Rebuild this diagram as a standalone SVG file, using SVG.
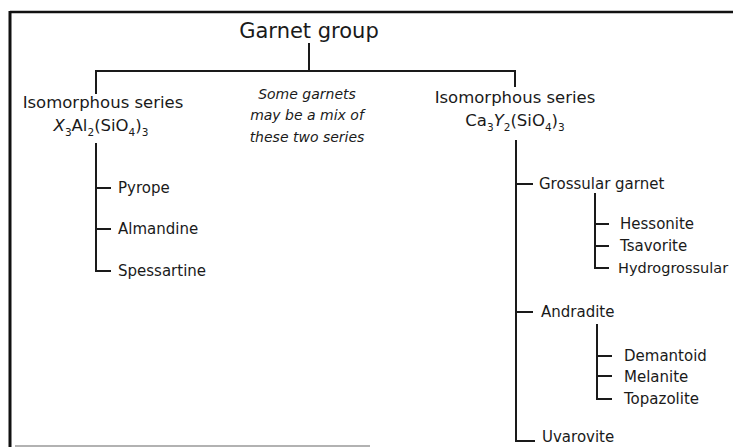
<svg xmlns="http://www.w3.org/2000/svg" width="733" height="447" viewBox="0 0 733 447">
<style>
text{font-family:"DejaVu Sans","Liberation Sans",sans-serif;fill:#1a1a1a}
.title{font-size:21px}
.series{font-size:16.5px}
.item{font-size:15px}
.note{font-size:14px;font-style:italic}
.sub{font-size:10.5px}
.ln{stroke:#1a1a1a;stroke-width:2;fill:none}
</style>
<rect x="0" y="0" width="733" height="447" fill="#fff"/>
<g id="frame">
<line x1="10" y1="12" x2="733" y2="12" stroke="#111" stroke-width="2.5"/>
<line x1="10" y1="11" x2="10" y2="447" stroke="#111" stroke-width="3"/>
<line x1="15" y1="446" x2="370" y2="446" stroke="#999" stroke-width="1.5"/>
</g>
<g id="connectors" class="ln">
<path d="M309 43V71M96 94V71H515V87"/>
<path d="M96 143V271H111M96 188H111M96 229H111"/>
<path d="M516 140V441H535M516 184H533M516 312H533"/>
<path d="M595 193V268H609M595 224H609M595 246H609"/>
<path d="M597 324V399H612M597 356H612M597 376H612"/>
</g>
<g id="garnet-group"><text class="title" x="309" y="38" text-anchor="middle">Garnet group</text></g>
<g id="series-x">
<text class="series" x="103" y="108" text-anchor="middle">Isomorphous series</text>
<text class="series" x="101" y="131" text-anchor="middle"><tspan font-style="italic">X</tspan><tspan class="sub" dy="5">3</tspan><tspan dy="-5">Al</tspan><tspan class="sub" dy="5">2</tspan><tspan dy="-5">(SiO</tspan><tspan class="sub" dy="5">4</tspan><tspan dy="-5">)</tspan><tspan class="sub" dy="5">3</tspan></text>
</g>
<g id="note">
<text class="note" x="307" y="99" text-anchor="middle">Some garnets</text>
<text class="note" x="307" y="120" text-anchor="middle">may be a mix of</text>
<text class="note" x="307" y="142" text-anchor="middle">these two series</text>
</g>
<g id="series-ca">
<text class="series" x="515" y="103" text-anchor="middle">Isomorphous series</text>
<text class="series" x="515" y="126" text-anchor="middle"><tspan>Ca</tspan><tspan class="sub" dy="5">3</tspan><tspan dy="-5" font-style="italic">Y</tspan><tspan class="sub" dy="5">2</tspan><tspan dy="-5">(SiO</tspan><tspan class="sub" dy="5">4</tspan><tspan dy="-5">)</tspan><tspan class="sub" dy="5">3</tspan></text>
</g>
<g id="pyrope"><text class="item" x="118" y="193">Pyrope</text></g>
<g id="almandine"><text class="item" x="118" y="234">Almandine</text></g>
<g id="spessartine"><text class="item" x="118" y="276">Spessartine</text></g>
<g id="grossular"><text class="item" x="539" y="189">Grossular garnet</text></g>
<g id="hessonite"><text class="item" x="620" y="229">Hessonite</text></g>
<g id="tsavorite"><text class="item" x="620" y="251">Tsavorite</text></g>
<g id="hydrogrossular"><text class="item" x="618" y="273" style="font-size:14.5px">Hydrogrossular</text></g>
<g id="andradite"><text class="item" x="541" y="317">Andradite</text></g>
<g id="demantoid"><text class="item" x="624" y="361">Demantoid</text></g>
<g id="melanite"><text class="item" x="624" y="382">Melanite</text></g>
<g id="topazolite"><text class="item" x="624" y="404">Topazolite</text></g>
<g id="uvarovite"><text class="item" x="542" y="442">Uvarovite</text></g>
</svg>
